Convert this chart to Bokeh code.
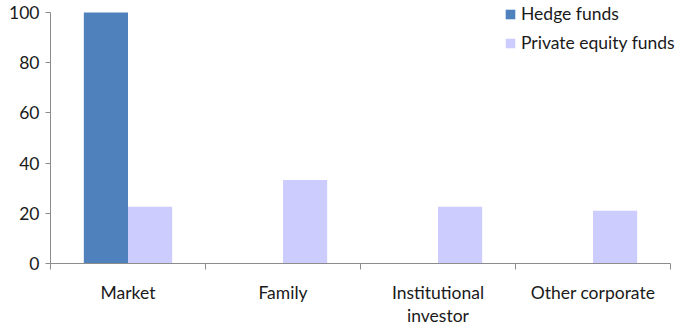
from bokeh.plotting import figure
from bokeh.models import FixedTicker, Legend, LegendItem, Range1d
from bokeh.embed import file_html
from bokeh.resources import INLINE

categories = ["Market", "Family", "Institutional\ninvestor", "Other corporate"]
hedge_funds = [100, 0, 0, 0]
private_equity = [22.6, 33.3, 22.6, 21.0]
y_ticks = [0, 20, 40, 60, 80, 100]
y_max = 100

FONT = "Lato"
FS = "17.5px"
BLUE = "#4F81BD"
LAV = "#CCCCFF"

idx = list(range(len(categories)))
centers = [i + 0.5 for i in idx]
bw = 0.285
n = len(categories)

# frame spans the whole right/top of the canvas so the legend is not clipped;
# axes are bounded to the data extents
p = figure(width=682, height=328, output_backend="svg", toolbar_location=None,
           x_range=Range1d(0, n * 632 / 620), y_range=Range1d(0, y_max * 264 / 252),
           min_border_left=50, min_border_right=0, min_border_top=0, min_border_bottom=64)
p.outline_line_color = None
p.grid.visible = False
p.background_fill_color = "white"
p.border_fill_color = "white"

r1 = p.vbar(x=[c - bw / 2 for c in centers], top=hedge_funds, width=bw, fill_color=BLUE, line_color=None)
r2 = p.vbar(x=[c + bw / 2 for c in centers], top=private_equity, width=bw, fill_color=LAV, line_color=None)

xa = p.xaxis[0]
xa.bounds = (0, n)
xa.ticker = FixedTicker(ticks=centers, minor_ticks=[float(i) for i in range(n + 1)])
xa.major_label_overrides = {c: lab for c, lab in zip(centers, categories)}
xa.major_tick_out = 0
xa.major_tick_in = 0
xa.minor_tick_out = 6
xa.minor_tick_in = 0
xa.minor_tick_line_color = "#8c8c8c"
xa.axis_line_color = "#8c8c8c"
xa.major_label_text_font = FONT
xa.major_label_text_font_size = FS
xa.major_label_text_color = "#1a1a1a"
xa.major_label_standoff = 12
xa.major_label_text_line_height = 1.1

ya = p.yaxis[0]
ya.bounds = (0, y_max)
ya.ticker = FixedTicker(ticks=y_ticks, minor_ticks=[])
ya.major_tick_out = 5
ya.major_tick_in = 0
ya.major_tick_line_color = "#8c8c8c"
ya.axis_line_color = "#8c8c8c"
ya.major_label_text_font = FONT
ya.major_label_text_font_size = FS
ya.major_label_text_color = "#1a1a1a"
ya.major_label_standoff = 6

legend = Legend(items=[LegendItem(label="Hedge funds", renderers=[r1]),
                       LegendItem(label="Private equity funds", renderers=[r2])],
                location=(454, 210), padding=0, margin=0, spacing=8,
                glyph_width=12, glyph_height=12, label_height=20, label_standoff=5,
                label_text_font=FONT, label_text_font_size=FS, label_text_color="#1a1a1a",
                background_fill_alpha=0, border_line_color=None)
p.add_layout(legend)

open("out.html", "w").write(file_html(p, INLINE))
